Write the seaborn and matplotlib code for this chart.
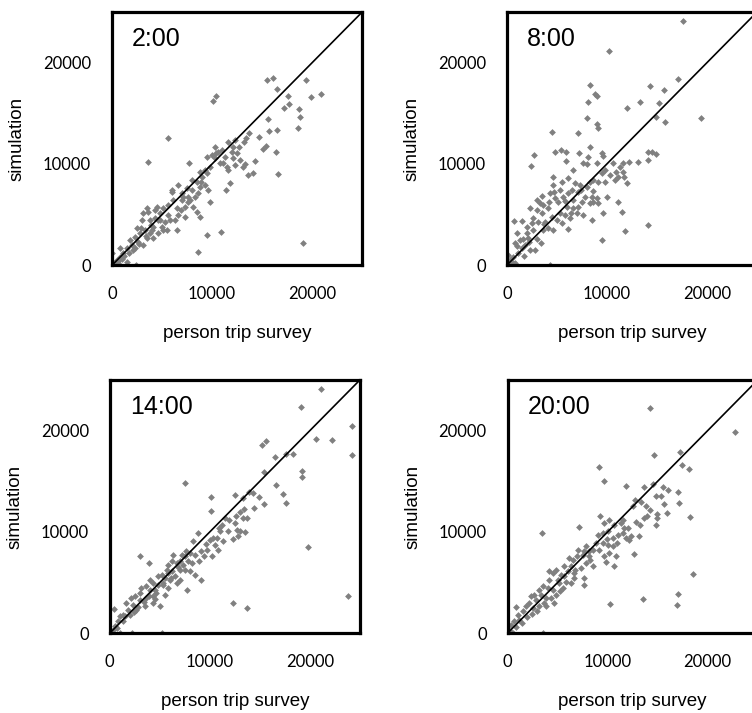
# Scatter of simulated vs surveyed trips for four times of day
import numpy as np
import matplotlib
matplotlib.use("Agg")
import matplotlib.pyplot as plt
import seaborn as sns

sns.set_style("white")
plt.rcParams['font.family'] = ['Liberation Sans', 'DejaVu Sans']
plt.rcParams['text.color'] = 'black'
plt.rcParams['axes.labelcolor'] = 'black'
plt.rcParams['xtick.color'] = 'black'
plt.rcParams['ytick.color'] = 'black'

# (person trip survey, simulation) pairs
pts_0200 = [
    (15470, 18290), (16130, 18520), (16530, 17370), (19400, 18290), (19900, 16640), (20900, 16900),
    (17630, 16740), (17230, 15560), (17730, 15890), (18670, 15460), (18800, 14600), (18630, 13580),
    (10130, 16210), (10370, 16710), (5630, 12600), (3630, 10230), (7730, 10130), (19130, 2170),
    (16630, 8980), (16370, 11210), (16470, 13350), (15630, 14400), (15130, 11480), (15400, 11800),
    (15670, 13250), (14730, 12690), (14330, 10320), (13700, 13090), (13370, 12600), (13200, 12200),
    (13630, 8910), (14070, 9070), (13300, 9960), (8630, 1340), (9470, 2960), (10870, 3320),
    (8800, 4800), (9800, 6280), (11370, 7430), (11800, 8090), (2400, 0), (11630, 12200),
    (12300, 12360), (11970, 11210), (12470, 11050), (12800, 10390), (12300, 9900), (11630, 9400),
    (11130, 10060), (10300, 11710), (10400, 11050), (10300, 10550), (9800, 9730), (10800, 10060),
    (11300, 10720), (9470, 9070), (8970, 8750), (8800, 9240), (9300, 7920), (9630, 7430),
    (8630, 7100), (8300, 6770), (7970, 7430), (7800, 6440), (7300, 5780), (8130, 5780),
    (8470, 5290), (7470, 7590), (6970, 6440), (6470, 5620), (6630, 4960), (5970, 7270),
    (6130, 6440), (6300, 4470), (5800, 4470), (5300, 4300), (4970, 3810), (5470, 3480),
    (6470, 3480), (7300, 4800), (4630, 4470), (4800, 5130), (4300, 4630), (3630, 5290),
    (3470, 5620), (3130, 5130), (2970, 4470), (4130, 3810), (3800, 3150), (3300, 3480),
    (2800, 3150), (2470, 3650), (2300, 2820), (2630, 2330), (1970, 2000), (1800, 2490),
    (1470, 1670), (1130, 1180), (800, 1670), (800, 850), (470, 520), (200, 190),
    (0, 1180), (300, 0), (630, 190), (1470, 360), (3800, 4470), (4470, 5780),
    (5130, 5620), (5630, 5950), (5970, 7430), (6630, 7920), (6970, 7100), (4300, 5460),
    (4800, 4470), (5130, 3480), (4630, 3150), (3470, 2660), (3070, 2000), (2300, 1670),
    (4130, 2660), (9300, 9400), (9470, 10720), (9970, 10880), (10630, 11210), (10970, 11380),
    (12070, 11710), (12730, 11710), (13130, 9730), (12130, 10550), (11470, 9730), (7970, 8420),
    (8470, 8250), (8800, 7760), (7630, 6770), (7130, 6770), (1000, 600), (1700, 1200),
    (2100, 1500), (2700, 2100), (3400, 2900), (4000, 3500), (1200, 900), (600, 400),
    (2900, 3700), (3900, 4000), (5600, 5000), (6900, 5500), (7600, 6200), (8900, 8200),
]

pts_0800 = [
    (17630, 24140), (10230, 21150), (17070, 18350), (14300, 17690), (15700, 17300), (8300, 17790),
    (8800, 16870), (8970, 16740), (8070, 16150), (13300, 16150), (11970, 15560), (15200, 15980),
    (19400, 14570), (14870, 14670), (15800, 14170), (7970, 14500), (8970, 13940), (9130, 13520),
    (4470, 13190), (7130, 13020), (2700, 10880), (2370, 9800), (4800, 11150), (5370, 11380),
    (5900, 11150), (5900, 10290), (7230, 11050), (8300, 11710), (8130, 10720), (7630, 10060),
    (7970, 10000), (9470, 11110), (9570, 10790), (9030, 10130), (6630, 9400), (4630, 8750),
    (14130, 11210), (14470, 11210), (14900, 10980), (14130, 10390), (13130, 10230), (12230, 10230),
    (11630, 10130), (11300, 9730), (10630, 10060), (10900, 9240), (11570, 9240), (11700, 8750),
    (11130, 8750), (10800, 8420), (10300, 8910), (11970, 8150), (9800, 9400), (9470, 9070),
    (9800, 8250), (9130, 8250), (8630, 8420), (9970, 6770), (11070, 6280), (11530, 5290),
    (11800, 3380), (14130, 3970), (9530, 2490), (9630, 5130), (8300, 8250), (7970, 7760),
    (7300, 7920), (6800, 8090), (6470, 7430), (7130, 7270), (7800, 6770), (8470, 6770),
    (8970, 6610), (8630, 6280), (9130, 6110), (8300, 6110), (7470, 6280), (6630, 6440),
    (6130, 7100), (5630, 6770), (5300, 7430), (4730, 7270), (4300, 7100), (4800, 6610),
    (5130, 6280), (5970, 5780), (6630, 5620), (7130, 5780), (7630, 4960), (8470, 4470),
    (6970, 5130), (6300, 4630), (5800, 4960), (5300, 5130), (4970, 4470), (5470, 4140),
    (6130, 3550), (4470, 4800), (4130, 5620), (3630, 5950), (3300, 6110), (2970, 6440),
    (2300, 5620), (2970, 5460), (3470, 5130), (3800, 4300), (4130, 3650), (4630, 3480),
    (3630, 3480), (3130, 4300), (2470, 4140), (2630, 3480), (2030, 3150), (1470, 4400),
    (700, 4400), (970, 3150), (800, 2170), (1300, 2490), (1800, 2000), (2300, 1510),
    (2800, 1510), (1470, 1670), (1130, 1180), (630, 850), (300, 520), (130, 1010),
    (470, 0), (4300, 0), (800, 190), (1970, 3810), (4630, 7920), (5470, 8250),
    (1000, 1900), (1600, 2600), (2100, 2700), (3000, 2600), (3400, 2200), (2600, 4700),
    (3700, 4100), (4200, 6200), (5800, 6300), (6400, 5200), (7400, 7400), (8600, 7300),
    (200, 200), (500, 300), (1700, 900), (2200, 2300), (3500, 6800), (6100, 8600),
]

pts_1400 = [
    (21070, 24110), (19070, 22330), (24230, 20490), (24230, 17560), (20600, 19200), (22170, 19040),
    (15170, 18610), (15570, 18940), (16500, 17390), (17600, 17690), (18330, 17690), (15430, 15910),
    (19170, 16040), (19230, 15380), (16600, 14660), (17270, 13740), (17570, 12850), (19830, 8470),
    (23770, 3630), (12330, 2970), (13670, 2510), (7500, 14820), (10100, 13440), (10100, 12020),
    (12500, 13600), (13330, 13340), (13900, 13930), (14330, 13830), (14900, 13440), (15400, 12750),
    (14400, 12350), (13400, 12250), (13000, 11920), (12570, 11600), (12500, 10870), (13330, 11360),
    (13670, 11360), (12670, 10210), (13000, 10050), (13500, 9950), (12330, 9290), (12830, 9550),
    (11830, 10050), (11170, 10710), (11500, 11360), (11000, 10050), (10670, 9390), (11330, 9060),
    (10330, 9390), (10000, 9220), (10500, 8730), (10830, 8240), (10170, 7580), (9670, 8240),
    (9400, 7580), (8830, 9880), (9070, 8070), (8330, 9060), (8500, 7740), (8900, 7080),
    (8000, 7910), (7600, 8070), (7500, 7580), (7170, 7740), (7000, 7080), (7830, 7080),
    (8170, 6920), (8500, 5770), (9070, 5270), (8000, 6100), (7500, 6260), (7000, 6260),
    (6670, 6920), (6330, 7740), (6170, 7080), (5830, 6750), (5670, 6260), (6170, 6100),
    (6500, 5600), (6670, 4940), (6000, 5270), (5500, 5440), (5170, 5770), (4830, 5600),
    (5330, 4940), (5830, 4450), (4830, 4780), (4330, 4940), (4000, 5270), (4500, 4290),
    (4000, 4290), (3670, 4610), (3170, 4450), (3000, 3960), (3670, 3460), (4330, 3630),
    (5000, 2640), (3000, 3300), (2500, 3630), (2170, 3460), (2330, 2800), (1670, 2970),
    (1830, 2310), (1330, 1810), (1000, 1650), (830, 1160), (400, 2410), (500, 660),
    (330, 330), (1070, 0), (2270, 0), (5170, 0), (3070, 7580), (3900, 6920),
    (2670, 2310), (3500, 2640), (4330, 2970), (5500, 3790), (7000, 5270), (7670, 4290),
    (1300, 1200), (2000, 1800), (2800, 2600), (3400, 3100), (4600, 4000), (5300, 4800),
    (6100, 5400), (6800, 6500), (9600, 8800), (10900, 10400), (11900, 11200), (700, 500),
    (1500, 1700), (2400, 2100), (3900, 3700), (4500, 3400), (5800, 5900), (7300, 6700),
]

pts_2000 = [
    (14230, 22230), (22770, 19860), (17270, 17850), (17400, 16630), (18100, 16210), (14670, 17620),
    (9170, 16370), (9600, 14990), (11830, 14560), (13600, 14390), (14500, 14720), (15500, 14390),
    (16000, 14160), (17070, 13900), (17100, 12850), (14830, 13570), (15330, 13510), (15670, 12750),
    (14930, 11760), (14900, 11360), (14830, 10710), (15900, 11860), (13970, 11530), (13600, 11360),
    (13270, 10710), (13170, 9550), (12600, 7840), (13830, 12580), (13330, 12910), (12730, 13180),
    (12500, 12520), (18270, 11500), (18570, 5870), (17000, 3890), (16930, 2800), (13570, 3400),
    (10270, 2900), (3430, 9880), (7170, 10440), (9270, 11530), (9670, 10870), (10170, 11200),
    (10670, 10710), (11330, 10870), (11670, 10380), (11500, 9880), (11000, 9720), (10500, 9390),
    (10000, 10050), (9500, 9880), (9000, 9720), (8830, 8890), (9500, 8890), (10000, 8730),
    (10500, 8570), (10830, 7580), (10170, 7910), (9670, 7580), (9830, 6980), (10670, 6590),
    (12170, 9220), (12330, 9550), (11830, 9390), (8570, 8240), (8170, 8070), (7830, 8570),
    (7670, 8070), (8170, 7580), (8500, 6590), (7830, 6920), (7500, 7740), (7000, 8240),
    (6900, 7580), (6500, 7250), (6170, 7410), (6330, 6590), (6770, 6260), (6000, 6100),
    (5670, 6590), (5670, 5600), (5330, 5770), (5000, 5270), (4830, 6260), (5170, 4940),
    (6330, 4940), (5500, 4450), (5230, 4120), (4830, 3790), (4500, 4290), (4000, 4450),
    (4170, 5270), (4500, 5930), (4170, 6100), (7670, 5440), (7670, 4780), (3500, 4610),
    (3170, 4290), (3330, 3790), (3830, 3460), (4670, 2970), (2830, 3300), (2670, 3790),
    (2330, 3630), (2170, 2970), (2500, 2470), (3170, 2640), (1830, 2640), (1500, 2140),
    (1000, 1810), (830, 2570), (1170, 1320), (670, 1160), (330, 830), (170, 330),
    (0, 0), (500, 0), (3500, 0), (3830, 2640), (6670, 5440), (300, 150),
    (800, 600), (1400, 1000), (1900, 1600), (2400, 1900), (2900, 2200), (3600, 3000),
    (4300, 3500), (5800, 5100), (6600, 5900), (7300, 6400), (8200, 7200), (9100, 8200),
    (9900, 9300), (10900, 8900), (11500, 11200), (12000, 10400), (12800, 11000), (14200, 12200),
]

panels = [("2:00", pts_0200), ("8:00", pts_0800), ("14:00", pts_1400), ("20:00", pts_2000)]

# axes rectangles in figure fractions
rects = [
    [0.149, 0.628, 0.3325, 0.355],
    [0.674, 0.628, 0.3325, 0.355],
    [0.146, 0.112, 0.3325, 0.355],
    [0.675, 0.112, 0.3325, 0.355],
]

fig = plt.figure(figsize=(7.52, 7.13), dpi=100)

for (label, pts), rect in zip(panels, rects):
    ax = fig.add_axes(rect)
    arr = np.array(pts, dtype=float)
    sns.scatterplot(x=arr[:, 0], y=arr[:, 1], ax=ax, marker='D', s=12,
                    color='#808080', linewidth=0, zorder=2)
    ax.axline((0, 0), slope=1, color='black', lw=1.2, zorder=3)
    ax.set_xlim(0, 25000)
    ax.set_ylim(0, 25000)
    ax.set_xticks(np.arange(0, 25001, 5000))
    ax.set_yticks(np.arange(0, 25001, 5000))
    ax.set_xticklabels(['0', '', '10000', '', '20000', ''])
    ax.set_yticklabels(['0', '', '10000', '', '20000', ''])
    ax.tick_params(direction='in', length=4, width=1.3, pad=15, labelsize=12)
    for t in ax.get_xticklabels() + ax.get_yticklabels():
        t.set_family(['Lato', 'DejaVu Sans'])
    for sp in ax.spines.values():
        sp.set_linewidth(2.3)
        sp.set_color('black')
        sp.set_visible(True)
    ax.set_xlabel('person trip survey', fontsize=13.5)
    ax.set_ylabel('simulation', fontsize=13.5)
    ax.xaxis.set_label_coords(0.5, -0.235)
    ax.yaxis.set_label_coords(-0.345, 0.5)
    ax.text(0.08, 0.94, label, transform=ax.transAxes, fontsize=18,
            ha='left', va='top')

fig.savefig('out.png', dpi=100)
